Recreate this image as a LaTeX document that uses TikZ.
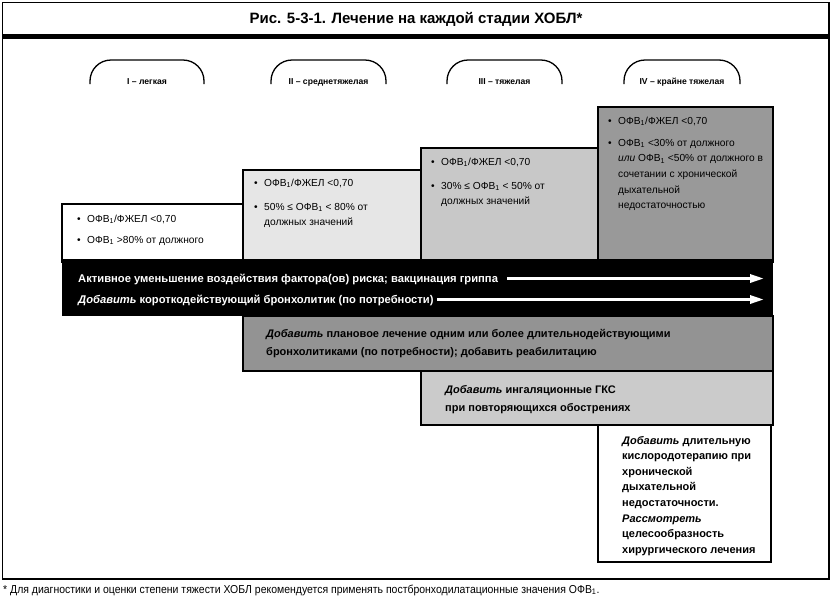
\documentclass[tikz,border=0pt]{standalone}
\usepackage{fontspec}
\setmainfont{Liberation Sans}
\newfontfamily\footfont[FakeStretch=0.91]{Liberation Sans}
\usetikzlibrary{arrows.meta}
\newcommand\ofv{ОФВ\textsubscript{1}}
\newcommand\toplines[1]{\begin{tabular}[t]{@{}l@{}}#1\end{tabular}}
\definecolor{cII}{HTML}{E6E6E6}
\definecolor{cIII}{HTML}{C8C8C8}
\definecolor{cIV}{HTML}{999999}
\definecolor{cLong}{HTML}{939393}
\definecolor{cICS}{HTML}{CBCBCB}
\tikzset{
  boxline/.style={draw=black,line width=1.4},
  arch/.style={draw=black,line width=1.3,rounded corners=21},
  stagelbl/.style={font=\bfseries\fontsize{8.6}{9}\selectfont,anchor=base,inner sep=0},
  bul/.style={font=\fontsize{10.2}{15.7}\selectfont,anchor=base west,inner sep=0},
  bartext/.style={font=\bfseries\fontsize{11.2}{12}\selectfont,text=white,anchor=base west,inner sep=0},
  boldtext/.style={font=\bfseries\fontsize{11}{18}\selectfont,anchor=base west,inner sep=0},
  oxytext/.style={font=\bfseries\fontsize{11}{15.6}\selectfont,anchor=base west,inner sep=0},
  whitearrow/.style={draw=white,line width=3,-{Triangle[length=14,width=8]}}
}
\begin{document}
\begin{tikzpicture}[x=1pt,y=-1pt]
\useasboundingbox (0,0) rectangle (834,600);
% outer frame
\draw[line width=1.5] (2.5,2.5) rectangle (829,579);
\draw[line width=4.5] (2.5,36.5) -- (829,36.5);
\node[font=\bfseries\fontsize{15}{18}\selectfont] (title) at (416,19) {Рис. 5-3-1. Лечение на каждой стадии ХОБЛ*};
% stage arches
\draw[arch] (90,84) -- (90,60) -- (204,60) -- (204,84);
\node[stagelbl] (s1) at (147,84) {I – легкая};
\draw[arch] (271,84) -- (271,60) -- (386,60) -- (386,84);
\node[stagelbl] (s2) at (328.5,84) {II – среднетяжелая};
\draw[arch] (447,84) -- (447,60) -- (562,60) -- (562,84);
\node[stagelbl] (s3) at (504.5,84) {III – тяжелая};
\draw[arch] (624,84) -- (624,60) -- (740,60) -- (740,84);
\node[stagelbl] (s4) at (682,84) {IV – крайне тяжелая};
% stage boxes
\draw[boxline,fill=white] (62,204) rectangle (243,262);
\draw[boxline,fill=cII] (243,170) rectangle (421,262);
\draw[boxline,fill=cIII] (421,148) rectangle (598,262);
\draw[boxline,fill=cIV] (598,107) rectangle (773,262);
% box I text
\node[bul] (b1a) at (77,222) {•};
\node[bul] (t1a) at (87,222) {\ofv/ФЖЕЛ <0,70};
\node[bul] (b1b) at (77,243) {•};
\node[bul] (t1b) at (87,243) {\ofv{} >80\% от должного};
% box II text
\node[bul] (b2a) at (254,186) {•};
\node[bul] (t2a) at (264,186) {\ofv/ФЖЕЛ <0,70};
\node[bul] (b2b) at (254,210) {•};
\node[bul] (t2b) at (264,210) {\toplines{50\% ≤ \ofv{} < 80\% от\\должных значений}};
% box III text
\node[bul] (b3a) at (431,165) {•};
\node[bul] (t3a) at (441,165) {\ofv/ФЖЕЛ <0,70};
\node[bul] (b3b) at (431,189) {•};
\node[bul] (t3b) at (441,189) {\toplines{30\% ≤ \ofv{} < 50\% от\\должных значений}};
% box IV text
\node[bul] (b4a) at (608,124) {•};
\node[bul] (t4a) at (618,124) {\ofv/ФЖЕЛ <0,70};
\node[bul] (b4b) at (608,146) {•};
\node[bul] (t4b) at (618,146) {\toplines{\ofv{} <30\% от должного\\\textit{или} \ofv{} <50\% от должного в\\сочетании с хронической\\дыхательной\\недостаточностью}};
% black bar
\fill[black] (62,259) rectangle (773,316);
\node[bartext] (bar1) at (78,282) {Активное уменьшение воздействия фактора(ов) риска; вакцинация гриппа};
\node[bartext] (bar2) at (78,303) {\textit{Добавить} короткодействующий бронхолитик (по потребности)};
\coordinate (a1s) at (507,278.5);
\coordinate (a1e) at (764,278.5);
\coordinate (a2s) at (437,299.5);
\coordinate (a2e) at (764,299.5);
\draw[whitearrow] (a1s) -- (a1e);
\draw[whitearrow] (a2s) -- (a2e);
% treatment boxes
\draw[boxline,fill=cLong] (243,316) rectangle (773,371);
\node[boldtext] (long) at (266,337) {\toplines{\textit{Добавить} плановое лечение одним или более длительнодействующими\\бронхолитиками (по потребности); добавить реабилитацию}};
\draw[boxline,fill=cICS] (421,371) rectangle (773,425);
\node[boldtext] (ics) at (445,393) {\toplines{\textit{Добавить} ингаляционные ГКС\\при повторяющихся обострениях}};
\draw[boxline,fill=white] (598,425) rectangle (771,562);
\node[oxytext] (oxy) at (622,444) {\toplines{\textit{Добавить} длительную\\кислородотерапию при\\хронической\\дыхательной\\недостаточности.\\\textit{Рассмотреть}\\целесообразность\\хирургического лечения}};
% footnote
\node[font=\footfont\fontsize{11.5}{14}\selectfont,anchor=base west,inner sep=0] (foot) at (3,593) {* Для диагностики и оценки степени тяжести ХОБЛ рекомендуется применять постбронходилатационные значения \ofv.};
\end{tikzpicture}
\end{document}
